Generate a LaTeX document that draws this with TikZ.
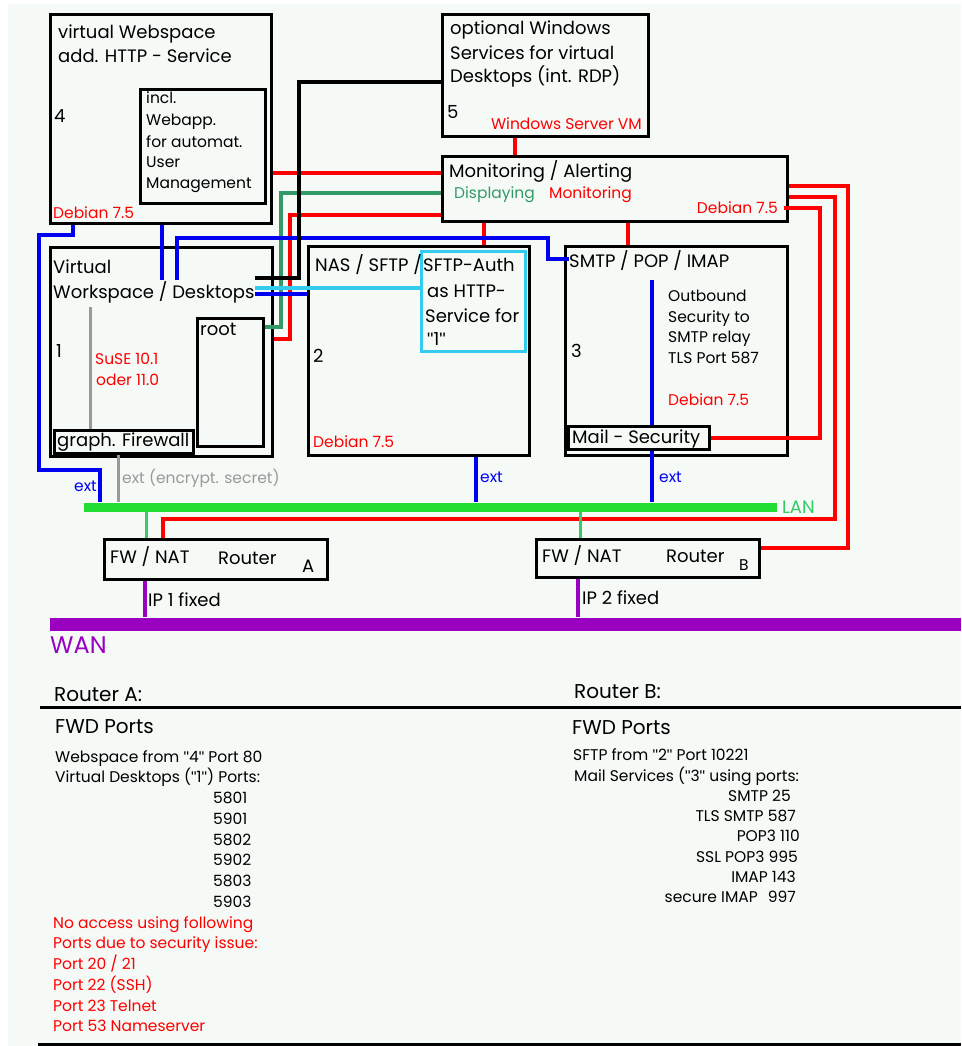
\documentclass[tikz,border=0pt]{standalone}
\usepackage{fontspec}
\setmainfont{Poppins}
\newfontfamily\qfont{Liberation Sans}
\definecolor{bg}{HTML}{F5FAF7}
\definecolor{cRed}{HTML}{FF0000}
\definecolor{cBlue}{HTML}{0000F0}
\definecolor{cSea}{HTML}{339966}
\definecolor{cCyan}{HTML}{33CCEE}
\definecolor{cLan}{HTML}{22DD33}
\definecolor{cLanT}{HTML}{33CC66}
\definecolor{cWan}{HTML}{9900C0}
\definecolor{cGray}{HTML}{999999}
\newcommand\fL{\fontsize{18}{20}\selectfont}
\newcommand\fM{\fontsize{15.5}{17}\selectfont}
\newcommand\fS{\fontsize{14}{16}\selectfont}
\newcommand\fX{\fontsize{20}{22}\selectfont}
\newcommand\dq{{\qfont\symbol{34}}}
\begin{document}
\begin{tikzpicture}[x=1pt,y=-1pt,
  box/.style={draw=black, line width=3pt, inner sep=0pt, anchor=north west},
  tx/.style={anchor=base west, inner sep=0pt, font=\fL},
  txm/.style={anchor=base west, inner sep=0pt, font=\fM},
  txr/.style={anchor=base east, inner sep=0pt, font=\fM},
  redl/.style={draw=cRed, line width=4pt},
  bluel/.style={draw=cBlue, line width=4pt},
  blackl/.style={draw=black, line width=4pt},
  cyanl/.style={draw=cCyan, line width=4pt},
  seal/.style={draw=cSea, line width=3.5pt},
  grayl/.style={draw=cGray, line width=3pt},
  lanl/.style={draw=cLanT, line width=3pt},
  wanl/.style={draw=cWan, line width=3.5pt}]
\useasboundingbox (0,0) rectangle (961,1046);
\fill[white] (0,0) rectangle (961,1046);
\fill[bg] (8,4) rectangle (961,1046);

% boxes
\node (b4) [box, minimum width=221, minimum height=209] at (49,13) {};
\node (b4in) [box, minimum width=125, minimum height=114] at (139,88) {};
\node (b5) [box, minimum width=206, minimum height=122] at (441,13) {};
\node (mon) [box, minimum width=345, minimum height=65] at (441,155) {};
\node (b1) [box, minimum width=222, minimum height=209] at (49,246) {};
\node (root) [box, minimum width=66, minimum height=128] at (196,317) {};
\node (fw) [box, minimum width=139, minimum height=23] at (53,429) {};
\node (b2) [box, minimum width=221, minimum height=209] at (307,245) {};
\node (cy) [box, draw=cCyan, minimum width=104, minimum height=100] at (420,250) {};
\node (b3) [box, minimum width=222, minimum height=209] at (564,245) {};
\node (mail) [box, minimum width=141, minimum height=23] at (567,425) {};
\node (ra) [box, minimum width=223, minimum height=40] at (103,538) {};
\node (rb) [box, minimum width=223, minimum height=38] at (535,538) {};
\node (lan) [fill=cLan, inner sep=0pt, minimum width=693, minimum height=9, anchor=west] at (84,507) {};
\node (wan) [fill=cWan, inner sep=0pt, minimum width=911, minimum height=13, anchor=west] at (50,624) {};

% texts box 4
\node[tx] at (58,39) {virtual Webspace};
\node[tx] at (58,63) {add. HTTP - Service};
\node[tx] at (54,123) {4};
\node[txm] at (146,104) {incl.};
\node[txm] at (146,126) {Webapp.};
\node[txm] at (146,147) {for automat.};
\node[txm] at (146,167) {User};
\node[txm] at (146,188) {Management};
\node[txm, text=cRed] at (53,218) {Debian 7.5};
% box 5
\node[tx] at (450,35) {optional Windows};
\node[tx] at (450,60) {Services for virtual};
\node[tx] at (450,83) {Desktops (int. RDP)};
\node[tx] at (447,118) {5};
\node[txr, text=cRed] at (642,129) {Windows Server VM};
% monitoring
\node[tx] at (449,177) {Monitoring / Alerting};
\node[txm, text=cSea] at (454,198) {Displaying};
\node[txm, text=cRed] at (549,198) {Monitoring};
\node (mdeb) [txr, text=cRed] at (778,213) {Debian 7.5};
% box 1
\node[tx] at (53,273) {Virtual};
\node (ws) [tx] at (53,298) {Workspace / Desktops};
\node[tx] at (56,357) {1};
\node[txm, text=cRed] at (95,364) {SuSE 10.1};
\node[txm, text=cRed] at (96,385) {oder 11.0};
\node[tx] at (200,335) {root};
\node[tx] at (57,446) {graph. Firewall};
% box 2
\node[tx] at (315,271) {NAS / SFTP /};
\node[tx] at (423,271) {SFTP-Auth};
\node[tx] at (427,297) {as HTTP-};
\node[tx] at (425,322) {Service for};
\node[tx] at (427,345) {\dq 1\dq};
\node[tx] at (313,362) {2};
\node[txm, text=cRed] at (313,447) {Debian 7.5};
% box 3
\node (smtp) [tx] at (569,267) {SMTP / POP / IMAP};
\node[tx] at (571,357) {3};
\node[txm] at (668,301) {Outbound};
\node[txm] at (668,322) {Security to};
\node[txm] at (668,342) {SMTP relay};
\node[txm] at (668,363) {TLS Port 587};
\node[txm, text=cRed] at (668,405) {Debian 7.5};
\node[tx] at (572,443) {Mail - Security};
% ext labels
\node[txm, text=cBlue] at (74,491) {ext};
\node[txm, text=cGray] at (122,483) {ext (encrypt. secret)};
\node[txm, text=cBlue] at (480,482) {ext};
\node[txm, text=cBlue] at (659,482) {ext};
\node[tx, text=cLanT] at (782,513) {LAN};
% routers
\node[tx] at (110,563) {FW / NAT};
\node[tx] at (218,564) {Router};
\node[tx] at (302,572) {A};
\node[tx] at (148,606) {IP 1 fixed};
\node[tx] at (542,562) {FW / NAT};
\node[tx] at (666,562) {Router};
\node[txm] at (739,570) {B};
\node[tx] at (582,604) {IP 2 fixed};
\node[anchor=base west, inner sep=0pt, font=\fontsize{24}{26}\selectfont, text=cWan] at (50,653) {WAN};

% connectors
\coordinate (bfree) at (652,280);
\coordinate (mdebR) at (784,208);
\draw[redl] (b5.south -| 515,0) -- (mon.north -| 515,0);
\draw[redl] (b4.east |- 0,173) -- (mon.west |- 0,173);
\draw[redl] (mon.west |- 0,215) -- (290,215) -- (290,339) -- (b1.east |- 0,339);
\draw[redl] (mon.south -| 484,0) -- (b2.north -| 484,0);
\draw[redl] (mon.south -| 628,0) -- (b3.north -| 628,0);
\draw[redl] (mail.east) -- (mail.east -| 820,0) -- (820,208) -- (mdebR);
\draw[redl] (mon.east |- 0,197) -- (835,197) -- (835,519) -- (163,519) -- (ra.north -| 163,0);
\draw[redl] (mon.east |- 0,186) -- (848,186) -- (848,548) -- (rb.east |- 0,548);
\draw[seal] (mon.west |- 0,193) -- (281,193) -- (281,327) -- (root.east |- 0,327);
\draw[bluel] (b4.south -| 162,0) -- (162,280);
\draw[bluel] (177,280) -- (177,238) -- (548,238) -- (548,259) -- (smtp.west |- 0,259);
\draw[blackl] (b5.west |- 0,82) -- (299,82) -- (299,278) -- (ws.east |- 0,278);
\draw[cyanl] (ws.east |- 0,288) -- (cy.west |- 0,288);
\draw[bluel] (ws.east |- 0,294) -- (b2.west |- 0,294);
\draw[grayl] (90,307) -- (fw.north -| 90,0);
\draw[grayl] (fw.south -| 118,0) -- (lan.north -| 118,0);
\draw[bluel] (b4.south -| 73,0) -- (73,235) -- (39,235) -- (39,470) -- (100,470) -- (lan.north -| 100,0);
\draw[bluel] (b2.south -| 476,0) -- (lan.north -| 476,0);
\draw[bluel] (bfree) -- (mail.north -| 652,0);
\draw[bluel] (mail.south -| 652,0) -- (lan.north -| 652,0);
\draw[lanl] (lan.south -| 146,0) -- (ra.north -| 146,0);
\draw[lanl] (lan.south -| 580,0) -- (rb.north -| 580,0);
\draw[wanl] (ra.south -| 145,0) -- (wan.north -| 145,0);
\draw[wanl] (rb.south -| 578,0) -- (wan.north -| 578,0);

% bottom tables
\coordinate (hl) at (40,707);
\coordinate (hr) at (961,707);
\coordinate (fl) at (38,1044);
\coordinate (fr) at (961,1044);
\draw[line width=3pt] (hl) -- (hr);
\draw[line width=3pt] (fl) -- (fr);
\node[anchor=base west, inner sep=0pt, font=\fX] at (54,701) {Router A:};
\node[anchor=base west, inner sep=0pt, font=\fX] at (574,698) {Router B:};
\node[anchor=base west, inner sep=0pt, font=\fX] at (55,733) {FWD Ports};
\node[anchor=base west, inner sep=0pt, font=\fX] at (572,734) {FWD Ports};
\node[txm] at (55,762) {Webspace from \dq 4\dq\ Port 80};
\node[txm] at (55,782) {Virtual Desktops (\dq 1\dq) Ports:};
\node[txm] at (213,803) {5801};
\node[txm] at (213,824) {5901};
\node[txm] at (213,845) {5802};
\node[txm] at (213,865) {5902};
\node[txm] at (213,886) {5803};
\node[txm] at (213,907) {5903};
\node[txm, text=cRed] at (53,928) {No access using following};
\node[txm, text=cRed] at (53,948) {Ports due to security issue:};
\node[txm, text=cRed] at (53,969) {Port 20 / 21};
\node[txm, text=cRed] at (53,990) {Port 22 (SSH)};
\node[txm, text=cRed] at (53,1011) {Port 23 Telnet};
\node[txm, text=cRed] at (53,1031) {Port 53 Nameserver};
\node[txm] at (573,760) {SFTP from \dq 2\dq\ Port 10221};
\node[txm] at (574,781) {Mail Services (\dq 3\dq\ using ports:};
\node[txr] at (791,801) {SMTP 25};
\node[txr] at (796,821) {TLS SMTP 587};
\node[txr] at (800,841) {POP3 110};
\node[txr] at (798,862) {SSL POP3 995};
\node[txr] at (796,882) {IMAP 143};
\node[txr] at (796,902) {secure IMAP\hspace{10pt}997};
\end{tikzpicture}
\end{document}
